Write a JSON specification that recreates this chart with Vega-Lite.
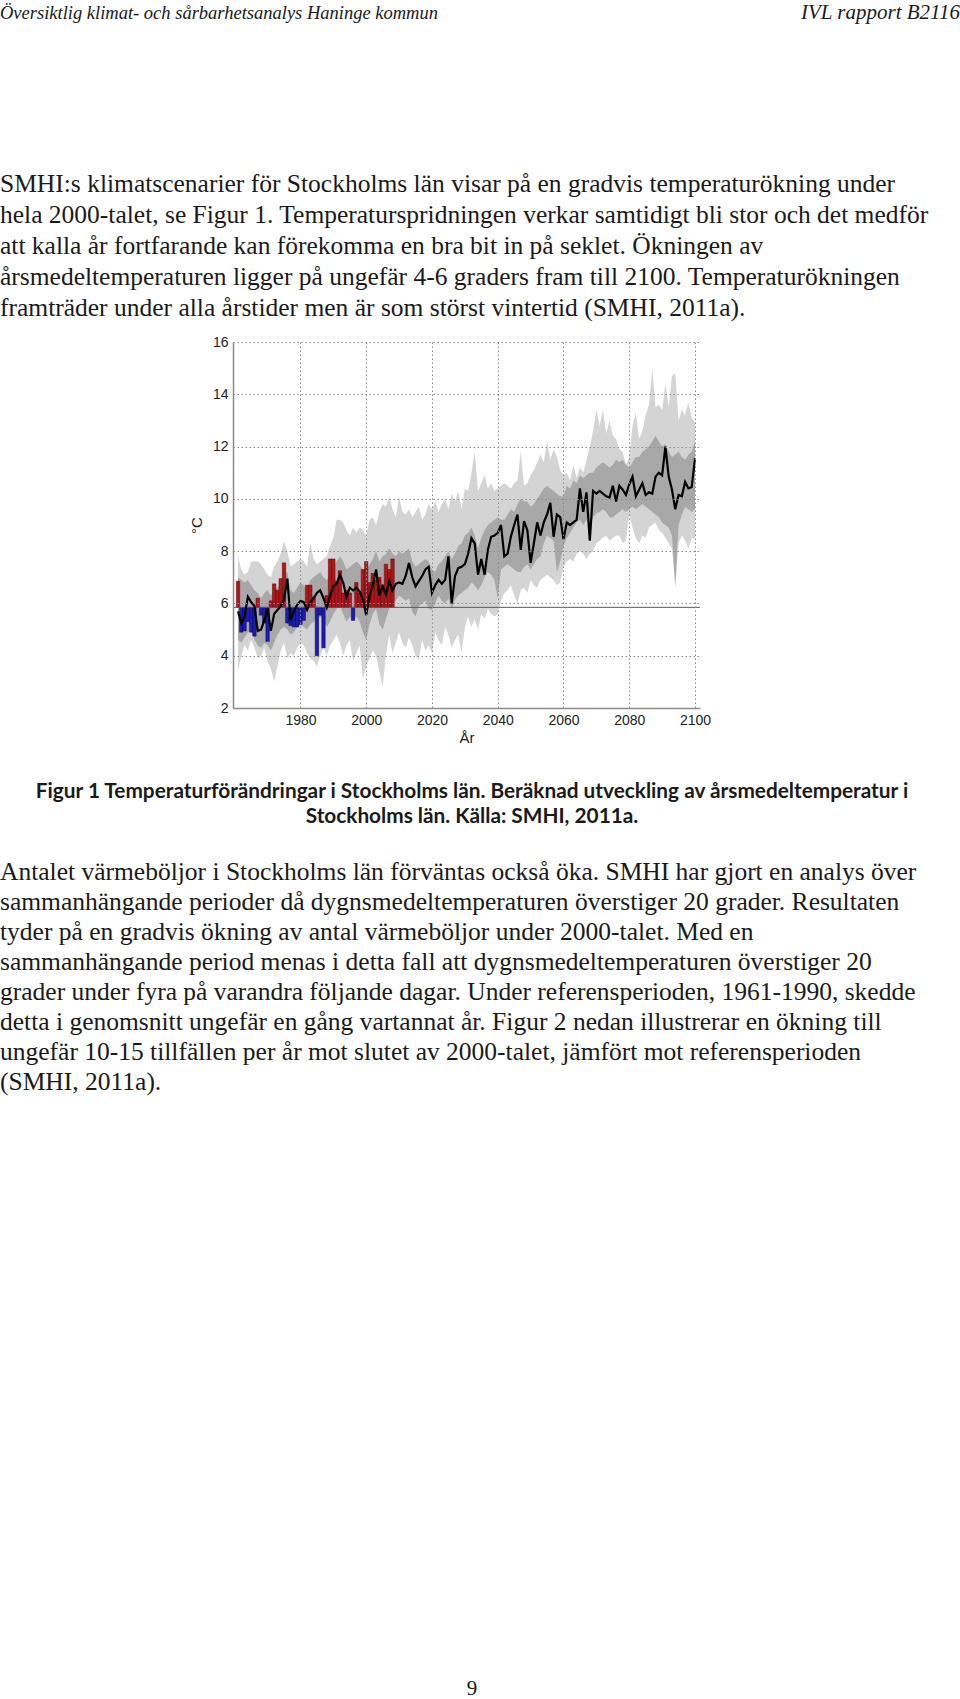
{
  "$schema": "https://vega.github.io/schema/vega-lite/v6.json",
  "padding": 0,
  "background": "white",
  "spacing": 0,
  "bounds": "full",
  "config": {"view": {"stroke": null}},
  "datasets": {
    "temp": [
      {"year":1961,"obs":6.85,"median":5.7,"lo":3.4,"hi":7.8,"dlo":4.6,"dhi":7.0},
      {"year":1962,"obs":4.9,"median":5.25,"lo":4.0,"hi":7.3,"dlo":4.5,"dhi":6.9},
      {"year":1963,"obs":4.95,"median":5.5,"lo":4.4,"hi":7.1,"dlo":4.7,"dhi":6.8},
      {"year":1964,"obs":5.3,"median":6.25,"lo":4.2,"hi":7.2,"dlo":4.9,"dhi":6.9},
      {"year":1965,"obs":4.9,"median":6.05,"lo":4.6,"hi":7.6,"dlo":5.0,"dhi":6.7},
      {"year":1966,"obs":4.75,"median":5.9,"lo":4.3,"hi":7.6,"dlo":4.6,"dhi":6.5},
      {"year":1967,"obs":6.2,"median":4.95,"lo":3.9,"hi":7.6,"dlo":4.4,"dhi":6.4},
      {"year":1968,"obs":5.55,"median":5.0,"lo":4.0,"hi":7.5,"dlo":4.3,"dhi":6.2},
      {"year":1969,"obs":5.25,"median":5.35,"lo":4.3,"hi":7.3,"dlo":4.5,"dhi":6.4},
      {"year":1970,"obs":4.55,"median":5.8,"lo":3.8,"hi":7.1,"dlo":4.4,"dhi":6.5},
      {"year":1971,"obs":6.1,"median":4.95,"lo":3.5,"hi":7.0,"dlo":4.2,"dhi":6.3},
      {"year":1972,"obs":6.75,"median":5.6,"lo":3.0,"hi":7.4,"dlo":4.5,"dhi":6.5},
      {"year":1973,"obs":6.5,"median":5.75,"lo":3.6,"hi":7.6,"dlo":4.8,"dhi":6.6},
      {"year":1974,"obs":6.95,"median":5.9,"lo":4.2,"hi":7.9,"dlo":5.0,"dhi":6.8},
      {"year":1975,"obs":7.55,"median":6.15,"lo":4.5,"hi":8.4,"dlo":5.1,"dhi":7.1},
      {"year":1976,"obs":5.25,"median":6.95,"lo":3.9,"hi":8.0,"dlo":5.0,"dhi":7.2},
      {"year":1977,"obs":5.15,"median":5.35,"lo":4.1,"hi":7.4,"dlo":4.8,"dhi":6.5},
      {"year":1978,"obs":5.1,"median":5.7,"lo":4.0,"hi":7.5,"dlo":4.9,"dhi":6.4},
      {"year":1979,"obs":5.1,"median":5.95,"lo":4.3,"hi":7.6,"dlo":5.1,"dhi":6.6},
      {"year":1980,"obs":5.2,"median":6.1,"lo":4.5,"hi":7.7,"dlo":5.2,"dhi":6.8},
      {"year":1981,"obs":5.35,"median":6.05,"lo":4.4,"hi":7.6,"dlo":5.1,"dhi":6.7},
      {"year":1982,"obs":6.7,"median":5.75,"lo":4.1,"hi":7.4,"dlo":5.0,"dhi":6.5},
      {"year":1983,"obs":6.7,"median":6.05,"lo":3.9,"hi":8.3,"dlo":5.2,"dhi":6.9},
      {"year":1984,"obs":6.25,"median":6.2,"lo":3.8,"hi":7.7,"dlo":5.3,"dhi":7.0},
      {"year":1985,"obs":4.0,"median":6.4,"lo":3.6,"hi":7.5,"dlo":5.4,"dhi":7.1},
      {"year":1986,"obs":5.55,"median":6.5,"lo":4.0,"hi":7.6,"dlo":5.5,"dhi":7.2},
      {"year":1987,"obs":4.3,"median":6.2,"lo":4.3,"hi":7.7,"dlo":5.3,"dhi":7.0},
      {"year":1988,"obs":6.3,"median":5.85,"lo":4.0,"hi":7.8,"dlo":5.1,"dhi":6.9},
      {"year":1989,"obs":7.7,"median":6.3,"lo":4.4,"hi":8.2,"dlo":5.3,"dhi":7.1},
      {"year":1990,"obs":7.7,"median":6.65,"lo":4.6,"hi":8.5,"dlo":5.6,"dhi":7.4},
      {"year":1991,"obs":6.85,"median":6.75,"lo":4.8,"hi":9.2,"dlo":5.8,"dhi":7.6},
      {"year":1992,"obs":7.25,"median":7.1,"lo":4.5,"hi":9.2,"dlo":5.9,"dhi":7.8},
      {"year":1993,"obs":6.4,"median":6.8,"lo":4.0,"hi":9.1,"dlo":5.6,"dhi":7.6},
      {"year":1994,"obs":6.5,"median":6.25,"lo":4.4,"hi":8.8,"dlo":5.3,"dhi":7.3},
      {"year":1995,"obs":6.4,"median":6.6,"lo":4.6,"hi":8.6,"dlo":5.5,"dhi":7.4},
      {"year":1996,"obs":5.35,"median":6.5,"lo":3.8,"hi":8.9,"dlo":5.4,"dhi":7.5},
      {"year":1997,"obs":6.8,"median":6.6,"lo":4.1,"hi":8.7,"dlo":5.5,"dhi":7.6},
      {"year":1998,"obs":6.4,"median":6.45,"lo":4.4,"hi":8.9,"dlo":5.3,"dhi":7.5},
      {"year":1999,"obs":7.3,"median":6.15,"lo":3.1,"hi":8.8,"dlo":4.9,"dhi":7.3},
      {"year":2000,"obs":7.6,"median":5.55,"lo":3.6,"hi":8.6,"dlo":4.6,"dhi":7.2},
      {"year":2001,"obs":6.8,"median":6.3,"lo":3.9,"hi":9.2,"dlo":5.2,"dhi":7.5},
      {"year":2002,"obs":7.15,"median":6.7,"lo":4.2,"hi":9.3,"dlo":5.6,"dhi":7.7},
      {"year":2003,"obs":6.9,"median":7.3,"lo":4.0,"hi":9.0,"dlo":5.8,"dhi":8.0},
      {"year":2004,"obs":7.0,"median":6.3,"lo":3.4,"hi":9.5,"dlo":5.2,"dhi":7.6},
      {"year":2005,"obs":6.7,"median":6.65,"lo":2.8,"hi":9.8,"dlo":5.0,"dhi":7.8},
      {"year":2006,"obs":7.5,"median":6.35,"lo":4.0,"hi":9.7,"dlo":5.4,"dhi":7.9},
      {"year":2007,"obs":7.3,"median":6.85,"lo":4.8,"hi":10.1,"dlo":5.8,"dhi":8.1},
      {"year":2008,"obs":7.7,"median":6.5,"lo":4.1,"hi":9.6,"dlo":6.0,"dhi":7.9},
      {"year":2009,"median":6.75,"lo":4.5,"hi":9.3,"dlo":6.1,"dhi":7.8},
      {"year":2010,"median":6.8,"lo":4.9,"hi":10.1,"dlo":6.3,"dhi":8.0},
      {"year":2011,"median":6.75,"lo":4.5,"hi":9.5,"dlo":6.2,"dhi":7.9},
      {"year":2012,"median":7.05,"lo":4.3,"hi":9.4,"dlo":6.1,"dhi":8.0},
      {"year":2013,"median":7.55,"lo":4.7,"hi":9.6,"dlo":6.2,"dhi":8.1},
      {"year":2014,"median":7.0,"lo":4.4,"hi":9.3,"dlo":5.7,"dhi":7.6},
      {"year":2015,"median":6.65,"lo":4.0,"hi":9.5,"dlo":5.5,"dhi":7.4},
      {"year":2016,"median":6.85,"lo":3.85,"hi":9.7,"dlo":5.9,"dhi":7.5},
      {"year":2017,"median":7.05,"lo":4.6,"hi":9.2,"dlo":6.0,"dhi":7.6},
      {"year":2018,"median":7.3,"lo":4.2,"hi":9.4,"dlo":6.1,"dhi":7.7},
      {"year":2019,"median":7.4,"lo":4.4,"hi":9.8,"dlo":5.8,"dhi":7.6},
      {"year":2020,"median":6.4,"lo":4.1,"hi":9.6,"dlo":5.75,"dhi":7.3},
      {"year":2021,"median":6.7,"lo":4.9,"hi":9.9,"dlo":6.0,"dhi":7.2},
      {"year":2022,"median":6.9,"lo":4.6,"hi":9.5,"dlo":6.3,"dhi":7.5},
      {"year":2023,"median":6.75,"lo":4.4,"hi":9.8,"dlo":6.1,"dhi":7.6},
      {"year":2024,"median":6.9,"lo":5.1,"hi":10.0,"dlo":6.0,"dhi":7.8},
      {"year":2025,"median":7.8,"lo":4.8,"hi":9.6,"dlo":6.2,"dhi":8.0},
      {"year":2026,"median":6.0,"lo":4.3,"hi":10.2,"dlo":5.8,"dhi":7.7},
      {"year":2027,"median":7.05,"lo":4.6,"hi":9.9,"dlo":6.15,"dhi":7.9},
      {"year":2028,"median":7.35,"lo":4.8,"hi":10.3,"dlo":6.3,"dhi":8.2},
      {"year":2029,"median":7.4,"lo":4.1,"hi":9.6,"dlo":6.4,"dhi":8.3},
      {"year":2030,"median":7.5,"lo":5.1,"hi":10.4,"dlo":6.5,"dhi":8.6},
      {"year":2031,"median":7.9,"lo":5.5,"hi":10.3,"dlo":6.6,"dhi":8.7},
      {"year":2032,"median":8.5,"lo":5.1,"hi":11.0,"dlo":6.8,"dhi":8.9},
      {"year":2033,"median":8.3,"lo":5.4,"hi":11.8,"dlo":6.7,"dhi":8.6},
      {"year":2034,"median":7.1,"lo":5.0,"hi":10.3,"dlo":6.5,"dhi":8.1},
      {"year":2035,"median":7.7,"lo":5.6,"hi":10.6,"dlo":6.7,"dhi":8.5},
      {"year":2036,"median":7.1,"lo":5.4,"hi":10.9,"dlo":7.0,"dhi":8.8},
      {"year":2037,"median":8.05,"lo":5.8,"hi":10.4,"dlo":7.2,"dhi":9.0},
      {"year":2038,"median":8.55,"lo":5.6,"hi":10.6,"dlo":7.1,"dhi":9.1},
      {"year":2039,"median":8.6,"lo":5.5,"hi":10.3,"dlo":6.9,"dhi":9.2},
      {"year":2040,"median":8.7,"lo":5.6,"hi":10.4,"dlo":6.2,"dhi":9.3},
      {"year":2041,"median":9.0,"lo":6.1,"hi":10.5,"dlo":7.3,"dhi":9.2},
      {"year":2042,"median":7.8,"lo":6.4,"hi":10.6,"dlo":7.4,"dhi":9.2},
      {"year":2043,"median":7.9,"lo":6.5,"hi":10.5,"dlo":7.5,"dhi":9.4},
      {"year":2044,"median":8.55,"lo":6.7,"hi":10.4,"dlo":7.4,"dhi":9.6},
      {"year":2045,"median":9.0,"lo":6.3,"hi":10.6,"dlo":7.3,"dhi":9.5},
      {"year":2046,"median":9.4,"lo":6.0,"hi":10.7,"dlo":7.2,"dhi":9.8},
      {"year":2047,"median":8.05,"lo":6.5,"hi":11.8,"dlo":7.2,"dhi":10.0},
      {"year":2048,"median":9.15,"lo":6.6,"hi":10.5,"dlo":7.4,"dhi":9.9},
      {"year":2049,"median":8.8,"lo":6.4,"hi":10.6,"dlo":7.5,"dhi":9.9},
      {"year":2050,"median":7.55,"lo":6.9,"hi":10.9,"dlo":7.3,"dhi":9.7},
      {"year":2051,"median":8.3,"lo":6.7,"hi":11.1,"dlo":7.5,"dhi":9.8},
      {"year":2052,"median":9.1,"lo":6.6,"hi":11.4,"dlo":7.7,"dhi":10.0},
      {"year":2053,"median":8.6,"lo":6.9,"hi":11.7,"dlo":7.8,"dhi":10.2},
      {"year":2054,"median":9.1,"lo":7.0,"hi":11.4,"dlo":8.3,"dhi":10.4},
      {"year":2055,"median":9.4,"lo":7.1,"hi":12.2,"dlo":8.6,"dhi":10.5},
      {"year":2056,"median":9.85,"lo":7.0,"hi":11.5,"dlo":8.5,"dhi":10.4},
      {"year":2057,"median":8.55,"lo":6.9,"hi":11.9,"dlo":8.4,"dhi":10.3},
      {"year":2058,"median":9.4,"lo":6.7,"hi":11.6,"dlo":7.2,"dhi":10.2},
      {"year":2059,"median":9.3,"lo":6.8,"hi":11.1,"dlo":7.6,"dhi":10.1},
      {"year":2060,"median":8.45,"lo":7.4,"hi":10.9,"dlo":8.2,"dhi":10.1},
      {"year":2061,"median":9.1,"lo":7.6,"hi":11.0,"dlo":8.5,"dhi":10.5},
      {"year":2062,"median":9.0,"lo":7.7,"hi":10.7,"dlo":8.7,"dhi":10.4},
      {"year":2063,"median":9.1,"lo":7.6,"hi":11.3,"dlo":8.9,"dhi":10.7},
      {"year":2064,"median":9.2,"lo":7.9,"hi":10.8,"dlo":9.1,"dhi":10.6},
      {"year":2065,"median":10.4,"lo":8.0,"hi":11.2,"dlo":9.2,"dhi":10.9},
      {"year":2066,"median":9.5,"lo":7.9,"hi":11.0,"dlo":9.0,"dhi":10.8},
      {"year":2067,"median":10.25,"lo":7.7,"hi":11.5,"dlo":9.2,"dhi":10.9},
      {"year":2068,"median":8.4,"lo":7.9,"hi":12.0,"dlo":8.9,"dhi":11.0},
      {"year":2069,"median":10.3,"lo":8.0,"hi":12.6,"dlo":9.3,"dhi":11.0},
      {"year":2070,"median":10.2,"lo":8.3,"hi":13.4,"dlo":9.45,"dhi":11.2},
      {"year":2071,"median":10.3,"lo":8.4,"hi":12.8,"dlo":9.5,"dhi":11.3},
      {"year":2072,"median":10.2,"lo":8.5,"hi":13.4,"dlo":9.6,"dhi":11.4},
      {"year":2073,"median":10.1,"lo":8.6,"hi":12.5,"dlo":9.5,"dhi":11.3},
      {"year":2074,"median":10.05,"lo":8.4,"hi":13.0,"dlo":9.3,"dhi":11.2},
      {"year":2075,"median":10.5,"lo":8.5,"hi":12.4,"dlo":9.3,"dhi":11.3},
      {"year":2076,"median":9.9,"lo":8.6,"hi":12.3,"dlo":9.4,"dhi":11.5},
      {"year":2077,"median":10.5,"lo":8.6,"hi":11.9,"dlo":9.5,"dhi":11.4},
      {"year":2078,"median":10.35,"lo":8.3,"hi":11.8,"dlo":9.6,"dhi":11.5},
      {"year":2079,"median":10.15,"lo":8.4,"hi":11.3,"dlo":9.5,"dhi":11.3},
      {"year":2080,"median":10.55,"lo":9.4,"hi":11.6,"dlo":9.6,"dhi":11.2},
      {"year":2081,"median":10.85,"lo":8.9,"hi":12.8,"dlo":9.7,"dhi":11.4},
      {"year":2082,"median":10.1,"lo":8.5,"hi":13.3,"dlo":9.6,"dhi":11.6},
      {"year":2083,"median":10.35,"lo":8.3,"hi":12.3,"dlo":9.7,"dhi":11.6},
      {"year":2084,"median":10.6,"lo":8.6,"hi":12.6,"dlo":9.8,"dhi":11.8},
      {"year":2085,"median":10.15,"lo":8.5,"hi":13.2,"dlo":9.7,"dhi":11.9},
      {"year":2086,"median":10.25,"lo":8.9,"hi":13.6,"dlo":9.6,"dhi":12.0},
      {"year":2087,"median":10.2,"lo":9.0,"hi":15.0,"dlo":9.5,"dhi":12.2},
      {"year":2088,"median":10.85,"lo":9.1,"hi":13.5,"dlo":9.4,"dhi":12.4},
      {"year":2089,"median":11.0,"lo":8.8,"hi":13.6,"dlo":9.3,"dhi":12.2},
      {"year":2090,"median":10.9,"lo":8.7,"hi":13.4,"dlo":9.1,"dhi":12.0},
      {"year":2091,"median":12.0,"lo":8.5,"hi":14.4,"dlo":9.0,"dhi":12.1},
      {"year":2092,"median":10.85,"lo":8.3,"hi":13.5,"dlo":8.9,"dhi":11.8},
      {"year":2093,"median":10.35,"lo":8.1,"hi":14.7,"dlo":8.6,"dhi":11.6},
      {"year":2094,"median":9.6,"lo":6.6,"hi":14.8,"dlo":6.7,"dhi":11.7},
      {"year":2095,"median":10.15,"lo":8.3,"hi":13.0,"dlo":9.0,"dhi":11.8},
      {"year":2096,"median":10.1,"lo":8.6,"hi":13.4,"dlo":9.4,"dhi":11.6},
      {"year":2097,"median":10.65,"lo":8.4,"hi":13.2,"dlo":9.7,"dhi":11.5},
      {"year":2098,"median":10.4,"lo":8.1,"hi":13.7,"dlo":9.6,"dhi":11.7},
      {"year":2099,"median":10.45,"lo":8.5,"hi":13.1,"dlo":9.5,"dhi":11.8},
      {"year":2100,"median":11.55,"lo":8.5,"hi":12.9,"dlo":9.6,"dhi":12.2}
    ]
  },
  "vconcat": [
    {
      "width": 960,
      "height": 26,
      "layer": [
        {
          "data": {"values": [{"text": "Översiktlig klimat- och sårbarhetsanalys Haninge kommun"}]},
          "mark": {"type": "text", "align": "left", "baseline": "middle", "font": "Liberation Serif", "fontStyle": "italic", "fontSize": 18.5, "color": "#1a1a1a"},
          "encoding": {
            "x": {"datum": "left", "type": "nominal", "scale": {"type": "point", "domain": ["left", "right"], "padding": 0}, "axis": null},
            "text": {"field": "text"}
          }
        },
        {
          "data": {"values": [{"text": "IVL rapport B2116"}]},
          "mark": {"type": "text", "align": "right", "baseline": "middle", "font": "Liberation Serif", "fontStyle": "italic", "fontSize": 21, "color": "#1a1a1a"},
          "encoding": {
            "x": {"datum": "right", "type": "nominal", "scale": {"type": "point", "domain": ["left", "right"], "padding": 0}, "axis": null},
            "text": {"field": "text"}
          }
        }
      ]
    },
    {
      "width": 960,
      "height": 309,
      "data": {"values": [
        {"line": 1, "text": "SMHI:s klimatscenarier för Stockholms län visar på en gradvis temperaturökning under"},
        {"line": 2, "text": "hela 2000-talet, se Figur 1. Temperaturspridningen verkar samtidigt bli stor och det medför"},
        {"line": 3, "text": "att kalla år fortfarande kan förekomma en bra bit in på seklet. Ökningen av"},
        {"line": 4, "text": "årsmedeltemperaturen ligger på ungefär 4-6 graders fram till 2100. Temperaturökningen"},
        {"line": 5, "text": "framträder under alla årstider men är som störst vintertid (SMHI, 2011a)."}
      ]},
      "mark": {"type": "text", "align": "left", "baseline": "middle", "font": "Liberation Serif", "fontSize": 25.5, "color": "#1a1a1a"},
      "encoding": {
        "x": {"datum": "left", "type": "nominal", "scale": {"type": "point", "domain": ["left", "right"], "padding": 0}, "axis": null},
        "y": {"field": "line", "type": "quantitative", "scale": {"domain": [-4.097, 5.871], "reverse": true, "zero": false, "nice": false}, "axis": null},
        "text": {"field": "text"}
      }
    },
    {
      "spacing": 0,
      "bounds": "flush",
      "hconcat": [
        {
          "width": 233,
          "height": 366,
          "data": {"values": []},
          "mark": "point"
        },
        {
          "width": 467,
          "height": 366,
          "layer": [
            {
              "data": {"name": "temp"},
              "mark": {"type": "area", "color": "#d4d4d4", "opacity": 1},
              "encoding": {
                "x": {
                  "field": "year", "type": "quantitative", "title": "År",
                  "scale": {"domain": [1961, 2100], "nice": false, "zero": false},
                  "axis": {
                    "values": [1980, 2000, 2020, 2040, 2060, 2080, 2100], "format": "d", "title": "År",
                    "grid": true, "gridDash": [1.5, 2.5], "gridColor": "#8c8c8c", "gridWidth": 1,
                    "domainColor": "#8c8c8c", "domainWidth": 1.5, "ticks": false, "labelPadding": 5,
                    "labelFont": "Liberation Sans", "labelFontSize": 14, "labelColor": "#222",
                    "titleFont": "Liberation Sans", "titleFontSize": 15, "titleFontWeight": "normal", "titleColor": "#222",
                    "titlePadding": 3, "zindex": 1
                  }
                },
                "y": {
                  "field": "lo", "type": "quantitative", "title": "°C",
                  "scale": {"domain": [2, 16], "nice": false, "zero": false},
                  "axis": {
                    "values": [2, 4, 6, 8, 10, 12, 14, 16], "grid": true, "gridDash": [1.5, 2.5], "gridColor": "#8c8c8c", "gridWidth": 1,
                    "domainColor": "#8c8c8c", "domainWidth": 1.5, "ticks": false, "labelPadding": 5,
                    "labelFont": "Liberation Sans", "labelFontSize": 14, "labelColor": "#222",
                    "titleFont": "Liberation Sans", "titleFontSize": 15, "titleFontWeight": "normal", "titleColor": "#222",
                    "titlePadding": 8, "zindex": 1
                  }
                },
                "y2": {"field": "hi"}
              }
            },
            {
              "data": {"name": "temp"},
              "mark": {"type": "area", "color": "#a8a8a8", "opacity": 1},
              "encoding": {
                "x": {"field": "year", "type": "quantitative", "title": "År"},
                "y": {"field": "dlo", "type": "quantitative", "title": "°C"},
                "y2": {"field": "dhi"}
              }
            },
            {
              "data": {"name": "temp"},
              "transform": [{"filter": "isValid(datum.obs)"}],
              "mark": {"type": "bar", "width": 3.4, "clip": true, "strokeWidth": 0.5},
              "encoding": {
                "x": {"field": "year", "type": "quantitative", "title": "År"},
                "y": {"field": "obs", "type": "quantitative", "title": "°C"},
                "y2": {"datum": 5.85},
                "color": {"condition": {"test": "datum.obs > 5.85", "value": "#ad171b"}, "value": "#1c1cb0"},
                "stroke": {"condition": {"test": "datum.obs > 5.85", "value": "#5e0404"}, "value": "#00005a"}
              }
            },
            {
              "data": {"values": [{"refmean": 5.85}]},
              "mark": {"type": "rule", "color": "#5a5a5a", "strokeWidth": 1},
              "encoding": {"y": {"field": "refmean", "type": "quantitative", "title": "°C"}}
            },
            {
              "data": {"name": "temp"},
              "mark": {"type": "line", "color": "#000000", "strokeWidth": 2.2},
              "encoding": {
                "x": {"field": "year", "type": "quantitative", "title": "År"},
                "y": {"field": "median", "type": "quantitative", "title": "°C"}
              }
            }
          ]
        }
      ]
    },
    {
      "width": 960,
      "height": 956,
      "resolve": {"scale": {"y": "independent"}},
      "layer": [
        {
          "data": {"values": [
            {"line": 1, "text": "Figur 1 Temperaturförändringar i Stockholms län. Beräknad utveckling av årsmedeltemperatur i"},
            {"line": 2, "text": "Stockholms län. Källa: SMHI, 2011a."}
          ]},
          "mark": {"type": "text", "align": "center", "baseline": "middle", "font": "Lato", "fontWeight": "bold", "fontSize": 20.8, "color": "#1a1a1a"},
          "encoding": {
            "x": {"datum": "center", "type": "nominal", "scale": {"type": "point", "domain": ["left", "center", "right"], "padding": 0, "range": [0, 944]}, "axis": null},
            "y": {"field": "line", "type": "quantitative", "scale": {"domain": [-0.88, 37.36], "reverse": true, "zero": false, "nice": false}, "axis": null},
            "text": {"field": "text"}
          }
        },
        {
          "data": {"values": [
            {"line": 1, "text": "Antalet värmeböljor i Stockholms län förväntas också öka. SMHI har gjort en analys över"},
            {"line": 2, "text": "sammanhängande perioder då dygnsmedeltemperaturen överstiger 20 grader. Resultaten"},
            {"line": 3, "text": "tyder på en gradvis ökning av antal värmeböljor under 2000-talet. Med en"},
            {"line": 4, "text": "sammanhängande period menas i detta fall att dygnsmedeltemperaturen överstiger 20"},
            {"line": 5, "text": "grader under fyra på varandra följande dagar. Under referensperioden, 1961-1990, skedde"},
            {"line": 6, "text": "detta i genomsnitt ungefär en gång vartannat år. Figur 2 nedan illustrerar en ökning till"},
            {"line": 7, "text": "ungefär 10-15 tillfällen per år mot slutet av 2000-talet, jämfört mot referensperioden"},
            {"line": 8, "text": "(SMHI, 2011a)."}
          ]},
          "mark": {"type": "text", "align": "left", "baseline": "middle", "font": "Liberation Serif", "fontSize": 25.5, "color": "#1a1a1a"},
          "encoding": {
            "x": {"datum": "left", "type": "nominal", "scale": {"type": "point", "domain": ["left", "center", "right"], "padding": 0, "range": [0, 944]}, "axis": null},
            "y": {"field": "line", "type": "quantitative", "scale": {"domain": [-3.2333, 28.6333], "reverse": true, "zero": false, "nice": false}, "axis": null},
            "text": {"field": "text"}
          }
        },
        {
          "data": {"values": [{"line": 1, "text": "9"}]},
          "mark": {"type": "text", "align": "center", "baseline": "middle", "font": "Liberation Serif", "fontSize": 21, "color": "#1a1a1a"},
          "encoding": {
            "x": {"datum": "center", "type": "nominal", "scale": {"type": "point", "domain": ["left", "center", "right"], "padding": 0, "range": [0, 944]}, "axis": null},
            "y": {"field": "line", "type": "quantitative", "scale": {"domain": [0, 1.01271], "reverse": true, "zero": false, "nice": false}, "axis": null},
            "text": {"field": "text"}
          }
        }
      ]
    }
  ]
}
